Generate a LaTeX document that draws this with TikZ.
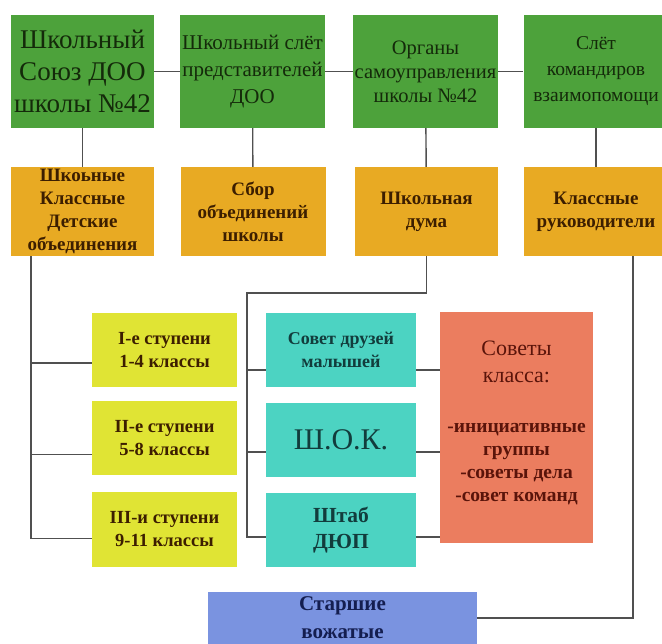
\documentclass[tikz,border=0pt]{standalone}
\usepackage{fontspec}
\setmainfont{Liberation Serif}
\definecolor{boxgreen}{HTML}{4DA23B}
\definecolor{boxorange}{HTML}{E8AA23}
\definecolor{boxyellow}{HTML}{E0E434}
\definecolor{boxteal}{HTML}{4CD3C2}
\definecolor{boxred}{HTML}{EB7D5F}
\definecolor{boxblue}{HTML}{7A93E0}
\definecolor{txtgreen}{HTML}{142A0A}
\definecolor{txtbrown}{HTML}{3C1E00}
\definecolor{txtteal}{HTML}{123C3C}
\definecolor{txtred}{HTML}{5A140A}
\definecolor{txtblue}{HTML}{141E50}
\definecolor{linegray}{HTML}{505050}
\begin{document}
\begin{tikzpicture}[x=1pt,y=-1pt,
  box/.style={inner sep=1pt,align=center,minimum width=145pt},
  topbox/.style={box,fill=boxgreen,text=txtgreen,minimum height=113pt},
  midbox/.style={box,fill=boxorange,text=txtbrown,minimum height=89pt,font=\fontsize{19}{23}\selectfont\bfseries},
  stepbox/.style={box,fill=boxyellow,text=txtbrown,minimum height=74pt,font=\fontsize{18.5}{23}\selectfont\bfseries},
  orgbox/.style={box,fill=boxteal,text=txtteal,minimum width=150pt,minimum height=74pt,font=\fontsize{18}{23}\selectfont\bfseries},
  sovbox/.style={fill=boxred,minimum width=153pt,minimum height=231pt,inner sep=0pt},
  sovtext/.style={text=txtred,align=center,inner sep=1pt},
  vozbox/.style={box,fill=boxblue,text=txtblue,minimum width=269pt,minimum height=52pt,font=\fontsize{21}{28}\selectfont\bfseries},
  conn/.style={draw=linegray,line width=1.4pt}]
\useasboundingbox (0,0) rectangle (662,644);
\node[topbox,minimum width=143pt,font=\fontsize{27}{32}\selectfont] (soyuz) at (82.5,71.5) {Школьный\\Союз ДОО\\школы №42};
\node[topbox,font=\fontsize{21}{27}\selectfont] (slet) at (252.5,71.5) {Школьный слёт\\представителей\\ДОО};
\node[topbox,font=\fontsize{20.5}{24}\selectfont] (organy) at (425.5,71.5) {Органы\\самоуправления\\школы №42};
\node[topbox,font=\fontsize{19.5}{26}\selectfont] (komand) at (596,71.5) {Слёт\\командиров\\взаимопомощи};
\node[midbox,minimum width=143pt] (obyed) at (82.5,211.5) {Шкоьные\\Классные\\Детские\\объединения};
\node[midbox] (sbor) at (253,211.5) {Сбор\\объединений\\школы};
\node[midbox,minimum width=143pt] (duma) at (426.5,211.5) {Школьная\\дума};
\node[midbox] (ruk) at (596,211.5) {Классные\\руководители};
\node[stepbox] (stup1) at (164.5,350) {I-е ступени\\1-4 классы};
\node[stepbox] (stup2) at (164.5,438.5) {II-е ступени\\5-8 классы};
\node[stepbox] (stup3) at (164.5,529.5) {III-и ступени\\9-11 классы};
\node[orgbox] (druz) at (341,350) {Совет друзей\\малышей};
\node[orgbox,font=\fontsize{30}{34}\selectfont] (shok) at (341,440) {Ш.О.К.};
\node[orgbox,font=\fontsize{21.5}{26}\selectfont\bfseries] (shtab) at (341,530) {Штаб\\ДЮП};
\node[sovbox] (sovety) at (516.5,427.5) {};
\node[sovtext,font=\fontsize{22}{27}\selectfont] (sovhead) at (516.5,362) {Советы\\класса:};
\node[sovtext,font=\fontsize{19.5}{23}\selectfont\bfseries] (sovlist) at (516.5,464) {-инициативные\\группы\\-советы дела\\-совет команд};
\node[vozbox] (vozh) at (342.5,618) {Старшие\\вожатые};
\draw[conn] (soyuz) -- (slet);
\draw[conn] (slet) -- (organy);
\draw[conn] (organy) -- (komand);
\draw[conn] (soyuz) -- (obyed);
\draw[conn] (slet) -- (sbor);
\draw[conn] (organy) -- (duma);
\draw[conn] (komand) -- (ruk);
\coordinate (ltrunk) at ([xshift=20pt]obyed.south west);
\draw[conn] (ltrunk) |- ([yshift=-9pt]stup3.west);
\draw[conn] ([yshift=-13pt]stup1.west) -- ([yshift=-13pt]stup1.west -| ltrunk);
\draw[conn] ([yshift=-16pt]stup2.west) -- ([yshift=-16pt]stup2.west -| ltrunk);
\coordinate (mbend) at ([yshift=-37pt]duma.south);
\coordinate (mtrunk) at ([xshift=-19pt]druz.west |- mbend);
\draw[conn] (duma) -- (mbend) -- (mtrunk) |- ([yshift=-7pt]shtab.west);
\draw[conn] ([yshift=-20pt]druz.west) -- ([yshift=-20pt]druz.west -| mtrunk);
\draw[conn] ([yshift=-12pt]shok.west) -- ([yshift=-12pt]shok.west -| mtrunk);
\draw[conn] ([yshift=-20pt]druz.east) -- ([yshift=-20pt]druz.east -| sovety.west);
\draw[conn] ([yshift=-12pt]shok.east) -- ([yshift=-12pt]shok.east -| sovety.west);
\draw[conn] ([yshift=-7pt]shtab.east) -- ([yshift=-7pt]shtab.east -| sovety.west);
\draw[conn] ([xshift=37pt]ruk.south) |- (vozh);
\end{tikzpicture}
\end{document}
